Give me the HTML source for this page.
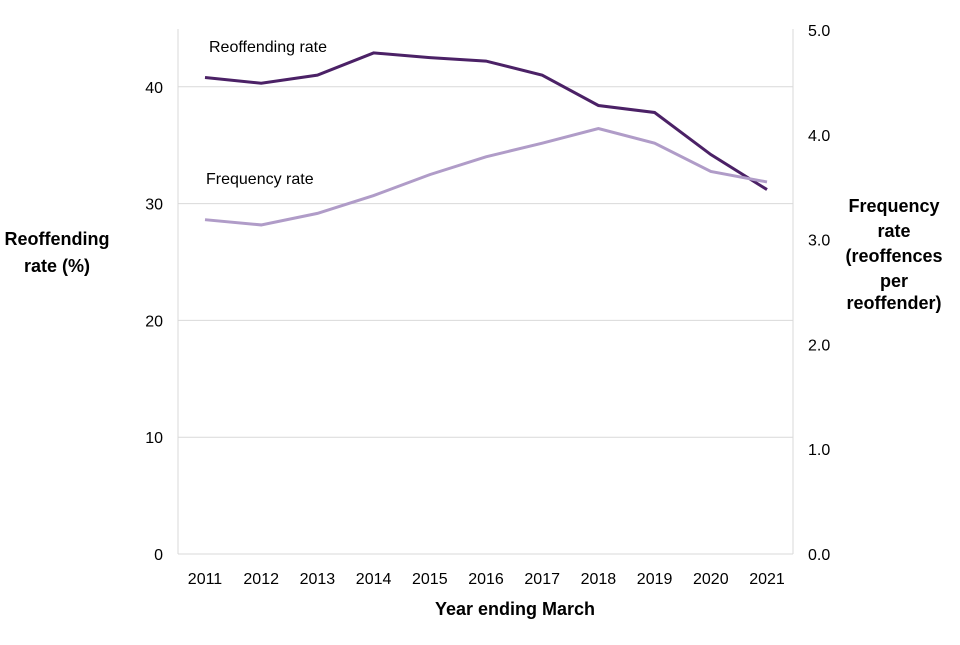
<!DOCTYPE html>
<html><head><meta charset="utf-8"><style>
body{margin:0;background:#fff;font-family:"Liberation Sans",Arial,sans-serif}
svg text{font-family:"Liberation Sans",Arial,sans-serif;fill:#000}
</style></head><body>
<svg id="chart" width="960" height="640"></svg>
<script>
const years=["2011","2012","2013","2014","2015","2016","2017","2018","2019","2020","2021"];
const reoffending=[40.8,40.3,41.0,42.9,42.5,42.2,41.0,38.4,37.8,34.2,31.2];
const frequency=[3.19,3.14,3.25,3.42,3.62,3.79,3.92,4.06,3.92,3.65,3.55];
const leftTicks=[0,10,20,30,40];
const rightTicks=["0.0","1.0","2.0","3.0","4.0","5.0"];
const NS="http://www.w3.org/2000/svg";
const svg=document.getElementById('chart');
const X0=178,X1=793,Y0=554;
const xs=i=>205+i*(767-205)/(years.length-1);
const yl=v=>Y0-v*(Y0-28.4)/45;
const yr=v=>Y0-v*(Y0-30)/5;
function el(t,a,txt){const e=document.createElementNS(NS,t);for(const k in a)e.setAttribute(k,a[k]);if(txt!==undefined)e.textContent=txt;svg.appendChild(e);return e;}
leftTicks.forEach(v=>{
 if(v>0){const g=el('line',{x1:X0,x2:X1,y1:yl(v),y2:yl(v),stroke:'#d9d9d9','stroke-width':1});
 
 }
 const t=el('text',{x:163,y:yl(v)+6,'text-anchor':'end','font-size':16},v);
 
 
});
rightTicks.forEach(v=>{
 const t=el('text',{x:808,y:yr(+v)+6,'font-size':16},v);
 
 
});
let a=el('line',{x1:X0,x2:X0,y1:29,y2:Y0,stroke:'#d9d9d9'});

a=el('line',{x1:X1,x2:X1,y1:29,y2:Y0,stroke:'#d9d9d9'});

a=el('line',{x1:X0,x2:X1,y1:Y0,y2:Y0,stroke:'#d9d9d9'});

years.forEach((y,i)=>{
 const t=el('text',{x:xs(i),y:584,'text-anchor':'middle','font-size':16},y);
 
 
});
const p1=el('polyline',{points:reoffending.map((v,i)=>xs(i)+','+yl(v)).join(' '),fill:'none',stroke:'#4b2166','stroke-width':3});


const p2=el('polyline',{points:frequency.map((v,i)=>xs(i)+','+yr(v)).join(' '),fill:'none',stroke:'#b09cc8','stroke-width':3});


let t=el('text',{x:209,y:52,'font-size':16},'Reoffending rate');

t=el('text',{x:206,y:184,'font-size':16},'Frequency rate');

t=el('text',{x:515,y:615,'text-anchor':'middle','font-size':18,'font-weight':'bold'},'Year ending March');

[['Reoffending',245],['rate (%)',272]].forEach(([s,y])=>{
 const e=el('text',{x:57,y:y,'text-anchor':'middle','font-size':18,'font-weight':'bold'},s);
 
 
});
[['Frequency',212],['rate',237],['(reoffences',262],['per',287],['reoffender)',309]].forEach(([s,y])=>{
 const e=el('text',{x:894,y:y,'text-anchor':'middle','font-size':18,'font-weight':'bold'},s);
 
 
});
</script>
</body></html>
